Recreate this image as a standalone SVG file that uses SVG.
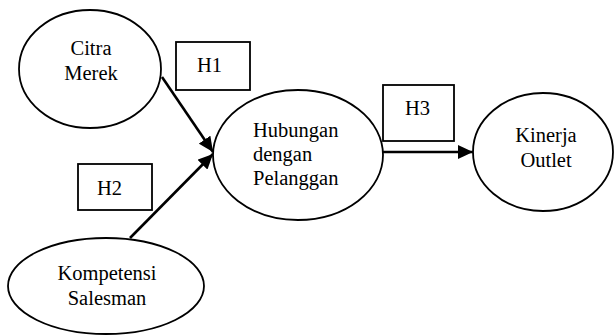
<svg xmlns="http://www.w3.org/2000/svg" width="615" height="336" viewBox="0 0 615 336">
<style>
.node ellipse{fill:#fff;stroke:#000;stroke-width:1.8}
.box rect{fill:#fff;stroke:#000;stroke-width:1.8}
text{font-family:"Liberation Serif","Times New Roman",serif;font-size:20.5px;fill:#000}
.c{text-anchor:middle}
.conn line{stroke:#000;stroke-width:2.6}
</style>
<defs>
<marker id="ah" markerUnits="userSpaceOnUse" markerWidth="16" markerHeight="14" refX="15" refY="7" orient="auto">
<path d="M0,0 L15,7 L0,14 z" fill="#000"/>
</marker>
</defs>
<rect width="615" height="336" fill="#fff"/>
<g class="conn" id="connectors">
<line x1="162" y1="77" x2="213" y2="152" marker-end="url(#ah)"/>
<line x1="130" y1="238" x2="213" y2="154" marker-end="url(#ah)"/>
<line x1="383" y1="152" x2="473" y2="152" marker-end="url(#ah)"/>
</g>
<g class="node" id="citra">
<ellipse cx="90" cy="69" rx="71" ry="59"/>
<text class="c" x="91" y="55">Citra</text>
<text class="c" x="91" y="80">Merek</text>
</g>
<g class="node" id="hubungan">
<ellipse cx="298" cy="155" rx="85" ry="65"/>
<text x="253" y="137">Hubungan</text>
<text x="253" y="161">dengan</text>
<text x="253" y="185">Pelanggan</text>
</g>
<g class="node" id="kinerja">
<ellipse cx="543" cy="152" rx="70" ry="59"/>
<text class="c" x="546" y="142">Kinerja</text>
<text class="c" x="546" y="167">Outlet</text>
</g>
<g class="node" id="kompetensi">
<ellipse cx="106" cy="286" rx="98" ry="48"/>
<text class="c" x="107" y="280">Kompetensi</text>
<text class="c" x="107" y="305">Salesman</text>
</g>
<g class="box" id="h1">
<rect x="176" y="42" width="74" height="48"/>
<text x="197" y="72">H1</text>
</g>
<g class="box" id="h2">
<rect x="78" y="164" width="74" height="46"/>
<text x="97" y="195">H2</text>
</g>
<g class="box" id="h3">
<rect x="383" y="85" width="71" height="56"/>
<text x="405" y="115">H3</text>
</g>
</svg>
